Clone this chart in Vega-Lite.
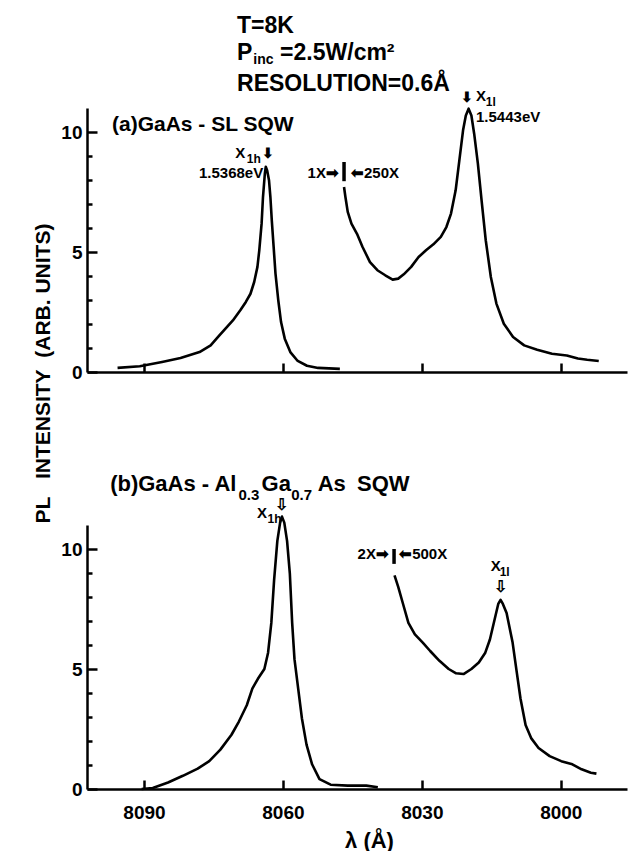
{
  "$schema": "https://vega.github.io/schema/vega-lite/v6.json",
  "background": "white",
  "padding": {"left": 32, "top": 14, "right": 2, "bottom": 0},
  "bounds": "flush",
  "spacing": 153,
  "config": {
    "view": {"stroke": null},
    "font": "Liberation Sans",
    "axis": {"domainColor": "black", "domainWidth": 2.5, "ticks": true, "tickColor": "black", "tickWidth": 2.5, "tickOpacity": 1, "labelColor": "black", "labelFont": "Liberation Sans", "labelFontWeight": "bold", "labelFontSize": 19, "titleColor": "black", "titleFont": "Liberation Sans", "titleFontWeight": "bold", "grid": false, "labelOverlap": false},
    "text": {"font": "Liberation Sans", "fontWeight": "bold", "color": "black"},
    "line": {"color": "black", "strokeWidth": 2.6, "strokeJoin": "round"},
    "rule": {"color": "black"}
  },
  "vconcat": [
    {
      "width": 540, "height": 264,
      "encoding": {
        "x": {"field": "lam", "type": "quantitative", "scale": {"domain": [7985.7, 8102.3], "reverse": true, "nice": false, "zero": false},
              "axis": {"values": [8090, 8060, 8030, 8000], "labels": false, "tickSize": -9, "title": null}},
        "y": {"field": "I", "type": "quantitative", "scale": {"domain": [0, 11], "nice": false, "zero": false},
              "axis": {"values": [0,1,2,3,4,5,6,7,8,9,10], "labelExpr": "datum.value % 5 === 0 ? datum.label : ''",
                       "tickSize": {"condition": {"test": "datum.value % 5 === 0", "value": -10}, "value": -5},
                       "labelPadding": 15, "title": "PL\u00a0\u00a0\u00a0INTENSITY\u00a0\u00a0(ARB. UNITS)", "titleFontSize": 21,
                       "titleX": -38, "titleY": 265, "titleBaseline": "alphabetic", "titleAlign": "center"}}
      },
      "layer": [
        {
          "data": {"values": [
            {"lam": 8095.7, "I": 0.17, "seg": "1X"}, {"lam": 8090.9, "I": 0.24, "seg": "1X"}, {"lam": 8086.1, "I": 0.42, "seg": "1X"},
            {"lam": 8082.1, "I": 0.58, "seg": "1X"}, {"lam": 8078.0, "I": 0.83, "seg": "1X"}, {"lam": 8075.6, "I": 1.11, "seg": "1X"},
            {"lam": 8074.0, "I": 1.46, "seg": "1X"}, {"lam": 8072.4, "I": 1.81, "seg": "1X"}, {"lam": 8070.8, "I": 2.15, "seg": "1X"},
            {"lam": 8069.2, "I": 2.57, "seg": "1X"}, {"lam": 8068.0, "I": 2.92, "seg": "1X"}, {"lam": 8067.0, "I": 3.26, "seg": "1X"},
            {"lam": 8066.2, "I": 3.75, "seg": "1X"}, {"lam": 8065.5, "I": 4.38, "seg": "1X"}, {"lam": 8065.1, "I": 5.07, "seg": "1X"},
            {"lam": 8064.6, "I": 6.18, "seg": "1X"}, {"lam": 8064.3, "I": 7.29, "seg": "1X"}, {"lam": 8063.9, "I": 8.26, "seg": "1X"},
            {"lam": 8063.7, "I": 8.55, "seg": "1X"}, {"lam": 8063.4, "I": 8.40, "seg": "1X"}, {"lam": 8063.0, "I": 7.99, "seg": "1X"},
            {"lam": 8062.7, "I": 7.29, "seg": "1X"}, {"lam": 8062.4, "I": 6.32, "seg": "1X"}, {"lam": 8062.0, "I": 5.21, "seg": "1X"},
            {"lam": 8061.6, "I": 4.10, "seg": "1X"}, {"lam": 8061.0, "I": 2.99, "seg": "1X"}, {"lam": 8060.4, "I": 2.08, "seg": "1X"},
            {"lam": 8059.6, "I": 1.39, "seg": "1X"}, {"lam": 8058.4, "I": 0.83, "seg": "1X"}, {"lam": 8056.8, "I": 0.46, "seg": "1X"},
            {"lam": 8054.8, "I": 0.26, "seg": "1X"}, {"lam": 8052.4, "I": 0.17, "seg": "1X"}, {"lam": 8047.7, "I": 0.13, "seg": "1X"},
            {"lam": 8046.8, "I": 7.71, "seg": "250X"}, {"lam": 8046.5, "I": 7.29, "seg": "250X"}, {"lam": 8046.0, "I": 6.67, "seg": "250X"},
            {"lam": 8045.2, "I": 6.18, "seg": "250X"}, {"lam": 8044.0, "I": 5.76, "seg": "250X"}, {"lam": 8042.8, "I": 5.21, "seg": "250X"},
            {"lam": 8041.2, "I": 4.58, "seg": "250X"}, {"lam": 8039.6, "I": 4.24, "seg": "250X"}, {"lam": 8037.9, "I": 4.03, "seg": "250X"},
            {"lam": 8036.3, "I": 3.85, "seg": "250X"}, {"lam": 8035.1, "I": 3.89, "seg": "250X"}, {"lam": 8033.9, "I": 4.07, "seg": "250X"},
            {"lam": 8032.3, "I": 4.38, "seg": "250X"}, {"lam": 8030.7, "I": 4.79, "seg": "250X"}, {"lam": 8029.1, "I": 5.07, "seg": "250X"},
            {"lam": 8027.5, "I": 5.32, "seg": "250X"}, {"lam": 8025.9, "I": 5.63, "seg": "250X"}, {"lam": 8024.7, "I": 6.04, "seg": "250X"},
            {"lam": 8023.7, "I": 6.60, "seg": "250X"}, {"lam": 8022.7, "I": 7.57, "seg": "250X"}, {"lam": 8021.9, "I": 8.82, "seg": "250X"},
            {"lam": 8021.1, "I": 10.07, "seg": "250X"}, {"lam": 8020.5, "I": 10.69, "seg": "250X"}, {"lam": 8019.9, "I": 10.97, "seg": "250X"},
            {"lam": 8019.3, "I": 10.69, "seg": "250X"}, {"lam": 8018.7, "I": 9.93, "seg": "250X"}, {"lam": 8017.9, "I": 8.68, "seg": "250X"},
            {"lam": 8017.1, "I": 7.15, "seg": "250X"}, {"lam": 8016.2, "I": 5.49, "seg": "250X"}, {"lam": 8015.1, "I": 3.96, "seg": "250X"},
            {"lam": 8013.9, "I": 2.85, "seg": "250X"}, {"lam": 8012.3, "I": 2.01, "seg": "250X"}, {"lam": 8010.3, "I": 1.46, "seg": "250X"},
            {"lam": 8007.9, "I": 1.11, "seg": "250X"}, {"lam": 8005.1, "I": 0.93, "seg": "250X"}, {"lam": 8001.9, "I": 0.76, "seg": "250X"},
            {"lam": 7998.7, "I": 0.69, "seg": "250X"}, {"lam": 7996.3, "I": 0.56, "seg": "250X"}, {"lam": 7994.3, "I": 0.51, "seg": "250X"},
            {"lam": 7991.8, "I": 0.46, "seg": "250X"}
          ]},
          "mark": {"type": "line"},
          "encoding": {"detail": {"field": "seg"}}
        },
        {
          "data": {"values": [
            {"lam": 8069.9, "I": 14.125, "t": "T=8K"},
            {"lam": 8069.9, "I": 13.0, "t": "P"},
            {"lam": 8060.6, "I": 13.0, "t": "=2.5W/cm²"},
            {"lam": 8069.9, "I": 11.71, "t": "RESOLUTION=0.6Å"}
          ]},
          "mark": {"type": "text", "align": "left", "baseline": "alphabetic", "fontSize": 23},
          "encoding": {"text": {"field": "t"}}
        },
        {
          "data": {"values": [{"lam": 8066.4, "I": 12.85, "t": "inc"}]},
          "mark": {"type": "text", "align": "left", "baseline": "alphabetic", "fontSize": 14},
          "encoding": {"text": {"field": "t"}}
        },
        {
          "data": {"values": [{"lam": 8096.9, "I": 10.04, "t": "(a)GaAs - SL SQW"}]},
          "mark": {"type": "text", "align": "left", "baseline": "alphabetic", "fontSize": 21},
          "encoding": {"text": {"field": "t"}}
        },
        {
          "data": {"values": [
            {"lam": 8064.25, "I": 8.08, "t": "1.5368eV"},
            {"lam": 8047.9, "I": 8.08, "t": "1X➡"}
          ]},
          "mark": {"type": "text", "align": "right", "baseline": "alphabetic", "fontSize": 15},
          "encoding": {"text": {"field": "t"}}
        },
        {
          "data": {"values": [
            {"lam": 8045.3, "I": 8.08, "t": "⬅250X"},
            {"lam": 8070.3, "I": 8.92, "t": "X"},
            {"lam": 8018.3, "I": 11.29, "t": "X"},
            {"lam": 8018.3, "I": 10.4, "t": "1.5443eV"}
          ]},
          "mark": {"type": "text", "align": "left", "baseline": "alphabetic", "fontSize": 15},
          "encoding": {"text": {"field": "t"}}
        },
        {
          "data": {"values": [
            {"lam": 8067.8, "I": 8.7, "t": "1h"},
            {"lam": 8016.2, "I": 11.1, "t": "1l"}
          ]},
          "mark": {"type": "text", "align": "left", "baseline": "alphabetic", "fontSize": 12},
          "encoding": {"text": {"field": "t"}}
        },
        {
          "data": {"values": [
            {"lam": 8063.3, "I": 9.1, "t": "⬇"},
            {"lam": 8020.2, "I": 11.4, "t": "⬇"}
          ]},
          "mark": {"type": "text", "align": "center", "baseline": "middle", "fontSize": 14},
          "encoding": {"text": {"field": "t"}}
        },
        {
          "data": {"values": [{"lam": 8046.8, "I": 7.95, "I2": 8.75}]},
          "mark": {"type": "rule", "strokeWidth": 3.5},
          "encoding": {"y2": {"field": "I2"}}
        }
      ]
    },
    {
      "width": 540, "height": 264,
      "encoding": {
        "x": {"field": "lam", "type": "quantitative", "scale": {"domain": [7985.7, 8102.3], "reverse": true, "nice": false, "zero": false},
              "axis": {"values": [8090, 8060, 8030, 8000], "format": "d", "tickSize": -9, "labelPadding": 23, "title": "λ (Å)", "titleFontSize": 22,
                       "titleX": 282, "titleY": 58, "titleBaseline": "alphabetic", "titleAlign": "center"}},
        "y": {"field": "I", "type": "quantitative", "scale": {"domain": [0, 11], "nice": false, "zero": false},
              "axis": {"values": [0,1,2,3,4,5,6,7,8,9,10], "labelExpr": "datum.value % 5 === 0 ? datum.label : ''",
                       "tickSize": {"condition": {"test": "datum.value % 5 === 0", "value": -10}, "value": -5},
                       "labelPadding": 15, "title": null}}
      },
      "layer": [
        {
          "data": {"values": [
            {"lam": 8090.5, "I": 0.00, "seg": "2X"}, {"lam": 8088.1, "I": 0.04, "seg": "2X"}, {"lam": 8084.8, "I": 0.27, "seg": "2X"},
            {"lam": 8081.6, "I": 0.55, "seg": "2X"}, {"lam": 8078.4, "I": 0.85, "seg": "2X"}, {"lam": 8075.9, "I": 1.16, "seg": "2X"},
            {"lam": 8073.5, "I": 1.64, "seg": "2X"}, {"lam": 8071.1, "I": 2.26, "seg": "2X"}, {"lam": 8069.5, "I": 2.81, "seg": "2X"},
            {"lam": 8067.8, "I": 3.49, "seg": "2X"}, {"lam": 8066.6, "I": 4.18, "seg": "2X"}, {"lam": 8065.4, "I": 4.59, "seg": "2X"},
            {"lam": 8064.0, "I": 5.00, "seg": "2X"}, {"lam": 8063.2, "I": 5.68, "seg": "2X"}, {"lam": 8062.5, "I": 6.92, "seg": "2X"},
            {"lam": 8061.9, "I": 8.70, "seg": "2X"}, {"lam": 8061.2, "I": 10.34, "seg": "2X"}, {"lam": 8060.6, "I": 11.10, "seg": "2X"},
            {"lam": 8060.2, "I": 11.35, "seg": "2X"}, {"lam": 8059.7, "I": 11.10, "seg": "2X"}, {"lam": 8059.1, "I": 10.34, "seg": "2X"},
            {"lam": 8058.5, "I": 8.97, "seg": "2X"}, {"lam": 8058.0, "I": 6.92, "seg": "2X"}, {"lam": 8057.5, "I": 5.41, "seg": "2X"},
            {"lam": 8056.7, "I": 4.18, "seg": "2X"}, {"lam": 8055.9, "I": 2.95, "seg": "2X"}, {"lam": 8054.9, "I": 1.85, "seg": "2X"},
            {"lam": 8053.7, "I": 1.03, "seg": "2X"}, {"lam": 8052.1, "I": 0.41, "seg": "2X"}, {"lam": 8049.7, "I": 0.18, "seg": "2X"},
            {"lam": 8046.0, "I": 0.14, "seg": "2X"}, {"lam": 8042.0, "I": 0.14, "seg": "2X"}, {"lam": 8039.5, "I": 0.07, "seg": "2X"},
            {"lam": 8035.9, "I": 8.90, "seg": "500X"}, {"lam": 8035.1, "I": 8.42, "seg": "500X"}, {"lam": 8034.1, "I": 7.74, "seg": "500X"},
            {"lam": 8032.9, "I": 6.92, "seg": "500X"}, {"lam": 8031.5, "I": 6.44, "seg": "500X"}, {"lam": 8029.8, "I": 6.10, "seg": "500X"},
            {"lam": 8028.2, "I": 5.75, "seg": "500X"}, {"lam": 8026.2, "I": 5.34, "seg": "500X"}, {"lam": 8024.2, "I": 5.00, "seg": "500X"},
            {"lam": 8022.6, "I": 4.82, "seg": "500X"}, {"lam": 8021.0, "I": 4.79, "seg": "500X"}, {"lam": 8019.3, "I": 5.00, "seg": "500X"},
            {"lam": 8017.7, "I": 5.27, "seg": "500X"}, {"lam": 8016.3, "I": 5.68, "seg": "500X"}, {"lam": 8015.3, "I": 6.23, "seg": "500X"},
            {"lam": 8014.3, "I": 7.05, "seg": "500X"}, {"lam": 8013.5, "I": 7.71, "seg": "500X"}, {"lam": 8013.0, "I": 7.88, "seg": "500X"},
            {"lam": 8012.5, "I": 7.71, "seg": "500X"}, {"lam": 8011.7, "I": 7.33, "seg": "500X"}, {"lam": 8010.4, "I": 6.10, "seg": "500X"},
            {"lam": 8009.5, "I": 4.86, "seg": "500X"}, {"lam": 8008.7, "I": 3.77, "seg": "500X"}, {"lam": 8007.6, "I": 2.67, "seg": "500X"},
            {"lam": 8006.4, "I": 2.12, "seg": "500X"}, {"lam": 8004.8, "I": 1.71, "seg": "500X"}, {"lam": 8002.4, "I": 1.37, "seg": "500X"},
            {"lam": 7999.9, "I": 1.16, "seg": "500X"}, {"lam": 7997.5, "I": 1.03, "seg": "500X"}, {"lam": 7995.5, "I": 0.82, "seg": "500X"},
            {"lam": 7993.5, "I": 0.68, "seg": "500X"}, {"lam": 7992.3, "I": 0.64, "seg": "500X"}
          ]},
          "mark": {"type": "line"},
          "encoding": {"detail": {"field": "seg"}}
        },
        {
          "data": {"values": [
            {"lam": 8097.3, "I": 12.4, "t": "(b)GaAs - Al"},
            {"lam": 8064.6, "I": 12.4, "t": "Ga"},
            {"lam": 8052.5, "I": 12.4, "t": "As"},
            {"lam": 8044.0, "I": 12.4, "t": "SQW"}
          ]},
          "mark": {"type": "text", "align": "left", "baseline": "alphabetic", "fontSize": 22},
          "encoding": {"text": {"field": "t"}}
        },
        {
          "data": {"values": [
            {"lam": 8069.6, "I": 12.05, "t": "0.3"},
            {"lam": 8058.2, "I": 12.05, "t": "0.7"}
          ]},
          "mark": {"type": "text", "align": "left", "baseline": "alphabetic", "fontSize": 15},
          "encoding": {"text": {"field": "t"}}
        },
        {
          "data": {"values": [
            {"lam": 8037.1, "I": 9.58, "t": "2X➡"}
          ]},
          "mark": {"type": "text", "align": "right", "baseline": "alphabetic", "fontSize": 15},
          "encoding": {"text": {"field": "t"}}
        },
        {
          "data": {"values": [
            {"lam": 8034.9, "I": 9.58, "t": "⬅500X"},
            {"lam": 8065.6, "I": 11.29, "t": "X"},
            {"lam": 8015.1, "I": 9.08, "t": "X"}
          ]},
          "mark": {"type": "text", "align": "left", "baseline": "alphabetic", "fontSize": 15},
          "encoding": {"text": {"field": "t"}}
        },
        {
          "data": {"values": [
            {"lam": 8063.3, "I": 11.08, "t": "1h"},
            {"lam": 8013.2, "I": 8.87, "t": "1l"}
          ]},
          "mark": {"type": "text", "align": "left", "baseline": "alphabetic", "fontSize": 12},
          "encoding": {"text": {"field": "t"}}
        },
        {
          "data": {"values": [
            {"lam": 8060.2, "I": 11.85, "t": "⇩"},
            {"lam": 8013.1, "I": 8.4, "t": "⇩"}
          ]},
          "mark": {"type": "text", "align": "center", "baseline": "middle", "fontSize": 16},
          "encoding": {"text": {"field": "t"}}
        },
        {
          "data": {"values": [{"lam": 8036.0, "I": 9.38, "I2": 10.0}]},
          "mark": {"type": "rule", "strokeWidth": 3.5},
          "encoding": {"y2": {"field": "I2"}}
        }
      ]
    }
  ]
}
